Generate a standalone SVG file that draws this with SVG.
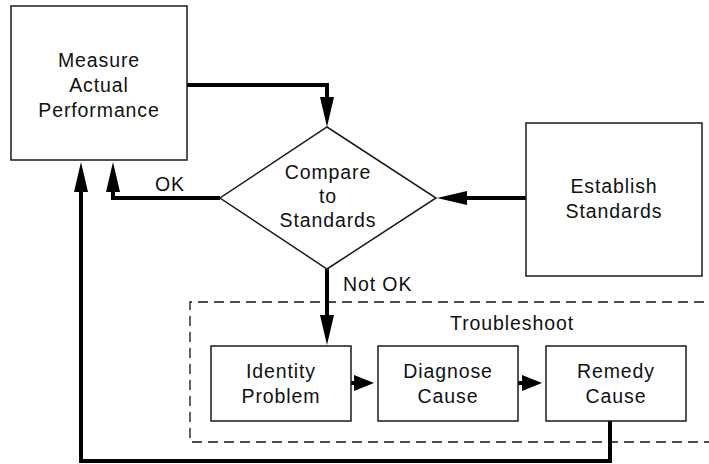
<svg xmlns="http://www.w3.org/2000/svg" width="709" height="464" viewBox="0 0 709 464">
<style>
.box{fill:#fff;stroke:#1a1a1a;stroke-width:1.5}
.dia{fill:#fff;stroke:#1a1a1a;stroke-width:1.5}
.lbl{font-family:"Liberation Sans",Arial,sans-serif;font-size:19.5px;fill:#111;text-anchor:middle;letter-spacing:0.9px}
.lbs{font-family:"Liberation Sans",Arial,sans-serif;font-size:19.5px;fill:#111;letter-spacing:0.9px}
.con{fill:none;stroke:#000;stroke-width:4}
.dash{fill:none;stroke:#111;stroke-width:1.3;stroke-dasharray:10 6}
</style>
<defs>
<marker id="ah" markerUnits="userSpaceOnUse" markerWidth="30" markerHeight="14" viewBox="0 0 30 14" refX="18" refY="7" orient="auto">
<path d="M0,0 L30,7 L0,14 z" fill="#000"/>
</marker>
<marker id="ahs" markerUnits="userSpaceOnUse" markerWidth="20" markerHeight="16" viewBox="0 0 20 16" refX="12" refY="8" orient="auto">
<path d="M0,0 L20,8 L0,16 z" fill="#000"/>
</marker>
</defs>

<g id="troubleshoot">
<path class="dash" d="M720,302 H190 V442 H720"/>
<text class="lbl" x="512" y="330">Troubleshoot</text>
</g>

<g id="connectors">
<path class="con" d="M187,85 H327 V115" marker-end="url(#ah)"/>
<path class="con" d="M526,198 H449" marker-end="url(#ah)"/>
<path class="con" d="M220,198 H113 V174" marker-end="url(#ah)"/>
<path class="con" d="M327,269 V333" marker-end="url(#ah)"/>
<path class="con" d="M351,383 H366" marker-end="url(#ahs)"/>
<path class="con" d="M518,383 H534" marker-end="url(#ahs)"/>
<path class="con" d="M610,421 V461 H81 V174" marker-end="url(#ah)"/>
<text class="lbs" x="155" y="191">OK</text>
<text class="lbs" x="343" y="291">Not OK</text>
</g>

<g id="measure">
<rect class="box" x="11" y="6" width="176" height="154"/>
<text class="lbl" x="99" y="67">Measure</text>
<text class="lbl" x="99" y="92">Actual</text>
<text class="lbl" x="99" y="117">Performance</text>
</g>

<g id="compare">
<polygon class="dia" points="327,127 436,198 327,269 220,198"/>
<text class="lbl" x="328" y="179">Compare</text>
<text class="lbl" x="328" y="203">to</text>
<text class="lbl" x="328" y="227">Standards</text>
</g>

<g id="establish">
<rect class="box" x="526" y="123" width="176" height="153"/>
<text class="lbl" x="614" y="193">Establish</text>
<text class="lbl" x="614" y="218">Standards</text>
</g>

<g id="identity">
<rect class="box" x="211" y="346" width="140" height="75"/>
<text class="lbl" x="281" y="378">Identity</text>
<text class="lbl" x="281" y="403">Problem</text>
</g>

<g id="diagnose">
<rect class="box" x="378" y="346" width="140" height="75"/>
<text class="lbl" x="448" y="378">Diagnose</text>
<text class="lbl" x="448" y="403">Cause</text>
</g>

<g id="remedy">
<rect class="box" x="546" y="346" width="140" height="75"/>
<text class="lbl" x="616" y="378">Remedy</text>
<text class="lbl" x="616" y="403">Cause</text>
</g>
</svg>
